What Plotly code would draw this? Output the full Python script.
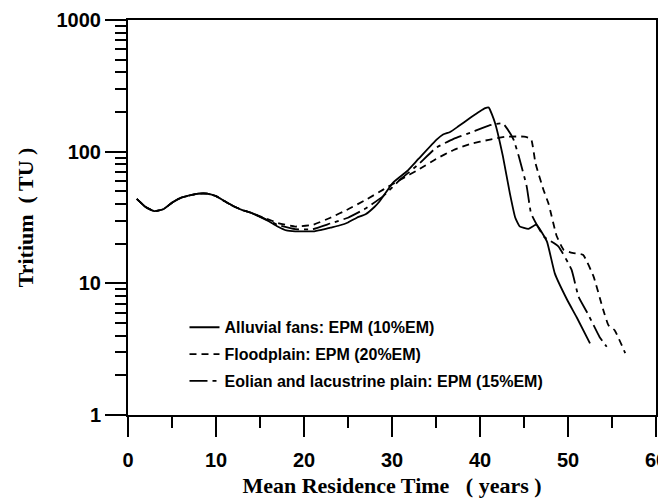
import plotly.graph_objects as go

# ---- data ----
alluvial_x = [1, 2, 3, 4, 5, 6, 7, 8, 9, 10, 11, 12, 13, 14, 15, 16, 17, 18, 19, 20, 21, 22, 23, 24,
              25, 26, 27, 28, 28.6, 30.1, 31.7, 33, 35.1, 35.8, 36.6, 37.5, 38.9, 40, 40.6, 41,
              41.7, 42.6, 43.4, 44, 44.5, 45.5, 46.4, 47.6, 48.5, 49.9, 51, 52.5]
alluvial_y = [43.8, 38, 35.3, 36.5, 41, 44.6, 46.5, 48, 48, 46, 42, 38.5, 36, 34.3, 32, 29.6, 27,
              25.2, 24.8, 24.8, 24.8, 25.5, 26.5, 27.5, 29, 31.5, 33.5, 38, 42, 58, 71, 88, 124, 135,
              141, 155, 181, 203, 214, 216, 166, 92.5, 48, 31.6, 27.1, 25.9, 27.9, 20.8, 11.9, 7.5,
              5.5, 3.5]

flood_x = [1, 2, 3, 4, 5, 6, 7, 8, 9, 10, 11, 12, 13, 14, 15, 16, 17, 19, 21, 23, 25, 27, 29, 31,
           33, 35, 37, 39, 41, 43, 45, 45.8, 46.3, 47.2, 47.8, 48.7, 49.5, 50.5, 51.7, 52.9, 54,
           54.6, 55.3, 56.5]
flood_y = [43.8, 38, 35.3, 36.5, 41, 44.6, 46.5, 48, 48, 46, 42, 38.5, 36, 34.3, 32.3, 30.5, 28.8,
           27, 27.8, 31.5, 36.5, 43, 51.5, 61.5, 73, 88, 103, 115, 123, 130, 130, 125, 82, 51.6,
           40, 23, 18, 17, 16.5, 11.3, 6.3, 4.8, 4.4, 2.95]

eolian_x = [1, 2, 3, 4, 5, 6, 7, 8, 9, 10, 11, 12, 13, 14, 15, 16, 17, 19, 21, 23, 25, 27, 29, 31,
            33, 35, 37, 39, 41, 42.6, 43.8, 44.4, 45.3, 45.8, 46.5, 47.3, 48.9, 50.4, 51.2, 52.3,
            53.6, 54.4]
eolian_y = [43.8, 38, 35.3, 36.5, 41, 44.6, 46.5, 48, 48, 46, 42, 38.5, 36, 34.3, 32.1, 30, 27.8,
            25.8, 25.8, 28.5, 31.5, 37, 46, 62, 80, 107, 125, 140, 158, 164, 124, 92.5, 54.7, 34,
            27.5, 22.5, 19.1, 12.7, 7.9, 5.8, 3.9, 3.3]

series_names = ["Alluvial fans: EPM (10%EM)",
                "Floodplain: EPM (20%EM)",
                "Eolian and lacustrine plain: EPM (15%EM)"]

x_ticks = [0, 10, 20, 30, 40, 50, 60]
y_ticks = [1, 10, 100, 1000]
y_minor = [m * d for d in (1, 10, 100) for m in range(2, 10)]

# ---- figure ----
fig = go.Figure()
styles = ["solid", "7px,5px", "18px,5px,4px,5px"]
for i, (xs, ys, nm, ds) in enumerate(zip([alluvial_x, flood_x, eolian_x],
                                         [alluvial_y, flood_y, eolian_y],
                                         series_names, styles)):
    fig.add_trace(go.Scatter(x=xs, y=ys, mode="lines", name=nm, legendgroup=f"g{i}",
                             line=dict(color="black", width=1.8, dash=ds, shape="spline",
                                       smoothing=0.4)))

tick_font = dict(family="Liberation Sans, Arial, sans-serif", size=20, color="black",
                 weight="bold")
title_font = dict(family="Liberation Serif, Times New Roman, serif", size=22, color="#000000")

# page body has an 8px default margin, so the figure is sized to end at the window edge
fig.update_layout(
    width=658, height=493,
    margin=dict(l=120, r=10, t=12, b=86),
    paper_bgcolor="white", plot_bgcolor="white",
    showlegend=True,
    legend=dict(x=0.107, y=0.265, xanchor="left", yanchor="top",
                bgcolor="rgba(0,0,0,0)", borderwidth=0, tracegroupgap=3,
                font=dict(family="Liberation Sans, Arial, sans-serif", size=16, color="black",
                          weight="bold")),
    xaxis=dict(range=[0, 60], tickvals=x_ticks, ticktext=[str(v) for v in x_ticks],
               automargin=False, ticklabeloverflow="allow",
               showgrid=False, zeroline=False, showline=True, linecolor="black", linewidth=2,
               mirror=True, ticks="outside", ticklen=20, tickwidth=2, tickcolor="black",
               ticklabelstandoff=6,
               minor=dict(dtick=5, ticks="outside", ticklen=11, tickwidth=2, tickcolor="black",
                          showgrid=False),
               tickfont=tick_font,
               title=dict(text="<b>Mean Residence Time   ( years )</b>", font=title_font,
                          standoff=8)),
    yaxis=dict(type="log", range=[0, 3], tickvals=y_ticks, ticktext=[str(v) for v in y_ticks],
               automargin=False,
               showgrid=False, zeroline=False, showline=True, linecolor="black", linewidth=2,
               mirror=True, ticks="outside", ticklen=21, tickwidth=2, tickcolor="black",
               minor=dict(tickvals=y_minor, ticks="outside", ticklen=11, tickwidth=2,
                          tickcolor="black", showgrid=False),
               tickfont=tick_font,
               title=dict(text="<b>Tritium  ( TU )</b>", font=title_font, standoff=17)),
)

fig.write_html("out.html")
